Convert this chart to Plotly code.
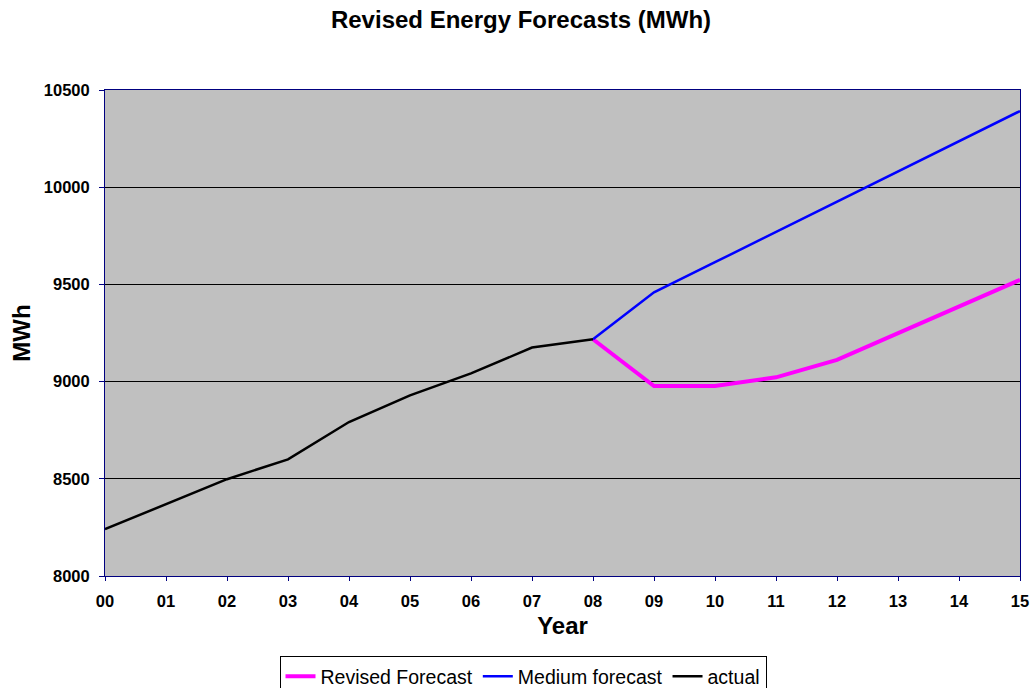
import plotly.graph_objects as go

years = list(range(16))
year_labels = ["00", "01", "02", "03", "04", "05", "06", "07", "08",
               "09", "10", "11", "12", "13", "14", "15"]
y_ticks = [8000, 8500, 9000, 9500, 10000, 10500]

actual_years = [0, 1, 2, 3, 4, 5, 6, 7, 8]
actual = [8241, 8368, 8498, 8600, 8792, 8929, 9042, 9175, 9218]

forecast_years = [8, 9, 10, 11, 12, 13, 14, 15]
revised = [9218, 8977, 8977, 9022, 9112, 9250, 9386, 9523]
medium = [9218, 9459, 9614, 9770, 9925, 10081, 10236, 10392]

FONT = "Liberation Sans, Arial, sans-serif"

fig = go.Figure()
fig.add_trace(go.Scatter(x=forecast_years, y=revised, mode="lines",
                         name="Revised Forecast",
                         line=dict(color="#FF00FF", width=4)))
fig.add_trace(go.Scatter(x=forecast_years, y=medium, mode="lines",
                         name="Medium forecast",
                         line=dict(color="#0000FF", width=2.5)))
fig.add_trace(go.Scatter(x=actual_years, y=actual, mode="lines",
                         name="actual",
                         line=dict(color="#000000", width=2.5)))

fig.update_layout(
    width=1034, height=688,
    margin=dict(l=105, r=14, t=90, b=112),
    paper_bgcolor="white",
    plot_bgcolor="#C0C0C0",
    font=dict(family=FONT, color="black"),
    title=dict(text="<b>Revised Energy Forecasts (MWh)</b>",
               font=dict(size=24, family=FONT, color="black"),
               x=521 / 1034, xanchor="center", xref="container",
               y=1 - 20 / 688, yanchor="middle", yref="container"),
    showlegend=True,
    legend=dict(orientation="h", xref="container", yref="container",
                x=523 / 1034, xanchor="center",
                y=1 - 656 / 688, yanchor="top",
                bordercolor="black", borderwidth=1,
                bgcolor="white",
                font=dict(size=19.5, family=FONT, color="black"),
                itemwidth=30, tracegroupgap=0),
    xaxis=dict(
        range=[0, 15],
        automargin=False,
        tickmode="array", tickvals=years,
        ticktext=["<b>%s</b>" % t for t in year_labels],
        tickfont=dict(size=16.5, family=FONT, color="black"),
        ticks="outside", ticklen=4, tickcolor="#000080",
        ticklabelstandoff=6,
        showgrid=False, zeroline=False,
        showline=True, linecolor="#000080", linewidth=1, mirror=True,
        title=dict(text="<b>Year</b>", font=dict(size=24, family=FONT, color="black"),
                   standoff=8),
    ),
    yaxis=dict(
        range=[8000, 10500],
        automargin=False,
        tickmode="array", tickvals=y_ticks,
        ticktext=["<b>%d</b>" % v for v in y_ticks],
        tickfont=dict(size=16.5, family=FONT, color="black"),
        ticks="outside", ticklen=5, tickcolor="#000080",
        ticklabelstandoff=6,
        showgrid=True, gridcolor="black", gridwidth=1,
        zeroline=False,
        showline=True, linecolor="#000080", linewidth=1, mirror=True,
        title=dict(text="<b>MWh</b>", font=dict(size=24, family=FONT, color="black"),
                   standoff=6),
    ),
)

fig.write_html(
    "out.html",
    config={"displayModeBar": False, "responsive": False},
    post_script="document.body.style.margin='0';document.body.style.overflow='hidden';",
)
